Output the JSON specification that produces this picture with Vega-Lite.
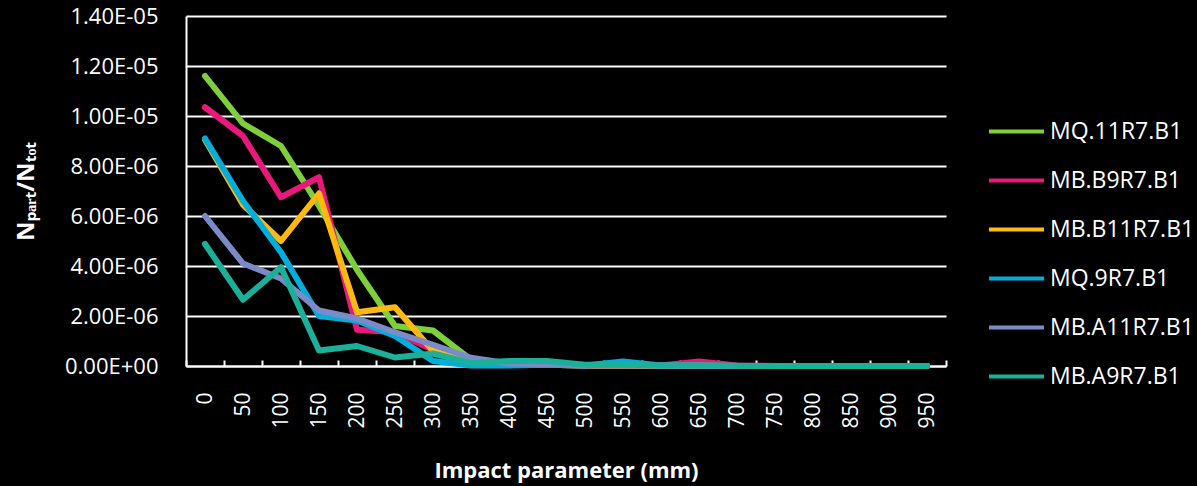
{
  "$schema": "https://vega.github.io/schema/vega-lite/v6.json",
  "width": 760,
  "height": 350,
  "autosize": {"type": "none"},
  "padding": {"left": 186, "top": 16, "right": 251, "bottom": 120},
  "background": "#000000",
  "config": {
    "view": {"stroke": null},
    "font": "Open Sans"
  },
  "data": {"values": [
    {"s":"MQ.11R7.B1","x":0,"y":1.16e-5},{"s":"MQ.11R7.B1","x":50,"y":9.7e-6},{"s":"MQ.11R7.B1","x":100,"y":8.8e-6},{"s":"MQ.11R7.B1","x":150,"y":6.4e-6},{"s":"MQ.11R7.B1","x":200,"y":3.85e-6},{"s":"MQ.11R7.B1","x":250,"y":1.6e-6},{"s":"MQ.11R7.B1","x":300,"y":1.42e-6},{"s":"MQ.11R7.B1","x":350,"y":2.5e-7},{"s":"MQ.11R7.B1","x":400,"y":8e-8},{"s":"MQ.11R7.B1","x":450,"y":5e-8},{"s":"MQ.11R7.B1","x":500,"y":2e-8},{"s":"MQ.11R7.B1","x":550,"y":2e-8},{"s":"MQ.11R7.B1","x":600,"y":1e-8},{"s":"MQ.11R7.B1","x":650,"y":1e-8},{"s":"MQ.11R7.B1","x":700,"y":0},{"s":"MQ.11R7.B1","x":750,"y":0},{"s":"MQ.11R7.B1","x":800,"y":0},{"s":"MQ.11R7.B1","x":850,"y":0},{"s":"MQ.11R7.B1","x":900,"y":0},{"s":"MQ.11R7.B1","x":950,"y":0},
    {"s":"MB.B9R7.B1","x":0,"y":1.035e-5},{"s":"MB.B9R7.B1","x":50,"y":9.2e-6},{"s":"MB.B9R7.B1","x":100,"y":6.75e-6},{"s":"MB.B9R7.B1","x":150,"y":7.55e-6},{"s":"MB.B9R7.B1","x":200,"y":1.45e-6},{"s":"MB.B9R7.B1","x":250,"y":1.35e-6},{"s":"MB.B9R7.B1","x":300,"y":6.5e-7},{"s":"MB.B9R7.B1","x":350,"y":1e-7},{"s":"MB.B9R7.B1","x":400,"y":5e-8},{"s":"MB.B9R7.B1","x":450,"y":5e-8},{"s":"MB.B9R7.B1","x":500,"y":2e-8},{"s":"MB.B9R7.B1","x":550,"y":2e-8},{"s":"MB.B9R7.B1","x":600,"y":2e-8},{"s":"MB.B9R7.B1","x":650,"y":1.8e-7},{"s":"MB.B9R7.B1","x":700,"y":2e-8},{"s":"MB.B9R7.B1","x":750,"y":0},{"s":"MB.B9R7.B1","x":800,"y":0},{"s":"MB.B9R7.B1","x":850,"y":0},{"s":"MB.B9R7.B1","x":900,"y":0},{"s":"MB.B9R7.B1","x":950,"y":0},
    {"s":"MB.B11R7.B1","x":0,"y":9.05e-6},{"s":"MB.B11R7.B1","x":50,"y":6.45e-6},{"s":"MB.B11R7.B1","x":100,"y":5.0e-6},{"s":"MB.B11R7.B1","x":150,"y":6.9e-6},{"s":"MB.B11R7.B1","x":200,"y":2.15e-6},{"s":"MB.B11R7.B1","x":250,"y":2.35e-6},{"s":"MB.B11R7.B1","x":300,"y":6e-7},{"s":"MB.B11R7.B1","x":350,"y":1.5e-7},{"s":"MB.B11R7.B1","x":400,"y":8e-8},{"s":"MB.B11R7.B1","x":450,"y":5e-8},{"s":"MB.B11R7.B1","x":500,"y":2e-8},{"s":"MB.B11R7.B1","x":550,"y":2e-8},{"s":"MB.B11R7.B1","x":600,"y":1e-8},{"s":"MB.B11R7.B1","x":650,"y":1e-8},{"s":"MB.B11R7.B1","x":700,"y":0},{"s":"MB.B11R7.B1","x":750,"y":0},{"s":"MB.B11R7.B1","x":800,"y":0},{"s":"MB.B11R7.B1","x":850,"y":0},{"s":"MB.B11R7.B1","x":900,"y":0},{"s":"MB.B11R7.B1","x":950,"y":0},
    {"s":"MQ.9R7.B1","x":0,"y":9.1e-6},{"s":"MQ.9R7.B1","x":50,"y":6.6e-6},{"s":"MQ.9R7.B1","x":100,"y":4.55e-6},{"s":"MQ.9R7.B1","x":150,"y":2.0e-6},{"s":"MQ.9R7.B1","x":200,"y":1.82e-6},{"s":"MQ.9R7.B1","x":250,"y":1.2e-6},{"s":"MQ.9R7.B1","x":300,"y":2e-7},{"s":"MQ.9R7.B1","x":350,"y":2e-8},{"s":"MQ.9R7.B1","x":400,"y":2e-8},{"s":"MQ.9R7.B1","x":450,"y":5e-8},{"s":"MQ.9R7.B1","x":500,"y":2e-8},{"s":"MQ.9R7.B1","x":550,"y":1.8e-7},{"s":"MQ.9R7.B1","x":600,"y":2e-8},{"s":"MQ.9R7.B1","x":650,"y":2e-8},{"s":"MQ.9R7.B1","x":700,"y":0},{"s":"MQ.9R7.B1","x":750,"y":0},{"s":"MQ.9R7.B1","x":800,"y":0},{"s":"MQ.9R7.B1","x":850,"y":0},{"s":"MQ.9R7.B1","x":900,"y":0},{"s":"MQ.9R7.B1","x":950,"y":0},
    {"s":"MB.A11R7.B1","x":0,"y":6.0e-6},{"s":"MB.A11R7.B1","x":50,"y":4.1e-6},{"s":"MB.A11R7.B1","x":100,"y":3.5e-6},{"s":"MB.A11R7.B1","x":150,"y":2.22e-6},{"s":"MB.A11R7.B1","x":200,"y":1.9e-6},{"s":"MB.A11R7.B1","x":250,"y":1.35e-6},{"s":"MB.A11R7.B1","x":300,"y":8.5e-7},{"s":"MB.A11R7.B1","x":350,"y":3.3e-7},{"s":"MB.A11R7.B1","x":400,"y":1e-7},{"s":"MB.A11R7.B1","x":450,"y":8e-8},{"s":"MB.A11R7.B1","x":500,"y":2e-8},{"s":"MB.A11R7.B1","x":550,"y":2e-8},{"s":"MB.A11R7.B1","x":600,"y":1e-8},{"s":"MB.A11R7.B1","x":650,"y":1e-8},{"s":"MB.A11R7.B1","x":700,"y":0},{"s":"MB.A11R7.B1","x":750,"y":0},{"s":"MB.A11R7.B1","x":800,"y":0},{"s":"MB.A11R7.B1","x":850,"y":0},{"s":"MB.A11R7.B1","x":900,"y":0},{"s":"MB.A11R7.B1","x":950,"y":0},
    {"s":"MB.A9R7.B1","x":0,"y":4.88e-6},{"s":"MB.A9R7.B1","x":50,"y":2.65e-6},{"s":"MB.A9R7.B1","x":100,"y":3.95e-6},{"s":"MB.A9R7.B1","x":150,"y":6.2e-7},{"s":"MB.A9R7.B1","x":200,"y":8e-7},{"s":"MB.A9R7.B1","x":250,"y":3.4e-7},{"s":"MB.A9R7.B1","x":300,"y":5e-7},{"s":"MB.A9R7.B1","x":350,"y":1.2e-7},{"s":"MB.A9R7.B1","x":400,"y":2e-7},{"s":"MB.A9R7.B1","x":450,"y":2e-7},{"s":"MB.A9R7.B1","x":500,"y":5e-8},{"s":"MB.A9R7.B1","x":550,"y":5e-8},{"s":"MB.A9R7.B1","x":600,"y":2e-8},{"s":"MB.A9R7.B1","x":650,"y":2e-8},{"s":"MB.A9R7.B1","x":700,"y":1e-8},{"s":"MB.A9R7.B1","x":750,"y":0},{"s":"MB.A9R7.B1","x":800,"y":0},{"s":"MB.A9R7.B1","x":850,"y":0},{"s":"MB.A9R7.B1","x":900,"y":0},{"s":"MB.A9R7.B1","x":950,"y":0}
  ]},
  "mark": {"type": "line", "strokeWidth": 6, "strokeJoin": "round", "strokeCap": "round"},
  "encoding": {
    "x": {
      "field": "x", "type": "ordinal",
      "scale": {"type": "band", "paddingInner": 0, "paddingOuter": 0},
      "axis": {
        "title": "Impact parameter (mm)",
        "titleColor": "#ffffff", "titleFontSize": 22, "titleFontWeight": "bold", "titleFont": "Open Sans",
        "titleBaseline": "bottom", "titleY": 116,
        "labelColor": "#ffffff", "labelFontSize": 21, "labelAngle": -90, "labelPadding": 32,
        "tickBand": "extent", "tickSize": -6, "tickColor": "#ffffff", "tickWidth": 2,
        "domainColor": "#ffffff", "domainWidth": 2, "grid": false
      }
    },
    "y": {
      "field": "y", "type": "quantitative",
      "scale": {"domain": [0, 1.4e-5], "nice": false},
      "axis": {
        "title": "Nₚₐᵣₜ/Nₜₒₜ",
        "titleColor": "#ffffff", "titleFontSize": 24, "titleFontWeight": "bold",
        "titleAngle": -90, "titleAlign": "center", "titleBaseline": "middle", "titleX": -160, "titleY": 175,
        "values": [0, 2e-6, 4e-6, 6e-6, 8e-6, 1e-5, 1.2e-5, 1.4e-5],
        "labelExpr": "datum.value == 0 ? '0.00E+00' : replace(replace(upper(format(datum.value, '.2e')), 'E-5', 'E-05'), 'E-6', 'E-06')",
        "labelColor": "#ffffff", "labelFontSize": 22, "labelPadding": 28,
        "ticks": false, "domainColor": "#ffffff", "domainWidth": 2,
        "grid": true, "gridColor": "#ffffff", "gridWidth": 2, "gridOpacity": 1
      }
    },
    "color": {
      "field": "s", "type": "nominal",
      "scale": {
        "domain": ["MQ.11R7.B1", "MB.B9R7.B1", "MB.B11R7.B1", "MQ.9R7.B1", "MB.A11R7.B1", "MB.A9R7.B1"],
        "range": ["#7ED03B", "#E8197A", "#FFB90F", "#00AEDB", "#7B8BC8", "#1AB09A"]
      },
      "legend": {
        "title": null, "orient": "none", "legendX": 801, "legendY": 86,
        "padding": 0, "symbolType": "stroke", "symbolSize": 3025, "symbolStrokeWidth": 4,
        "labelColor": "#ffffff", "labelFontSize": 23, "labelOffset": 4, "rowPadding": 7
      }
    }
  }
}
